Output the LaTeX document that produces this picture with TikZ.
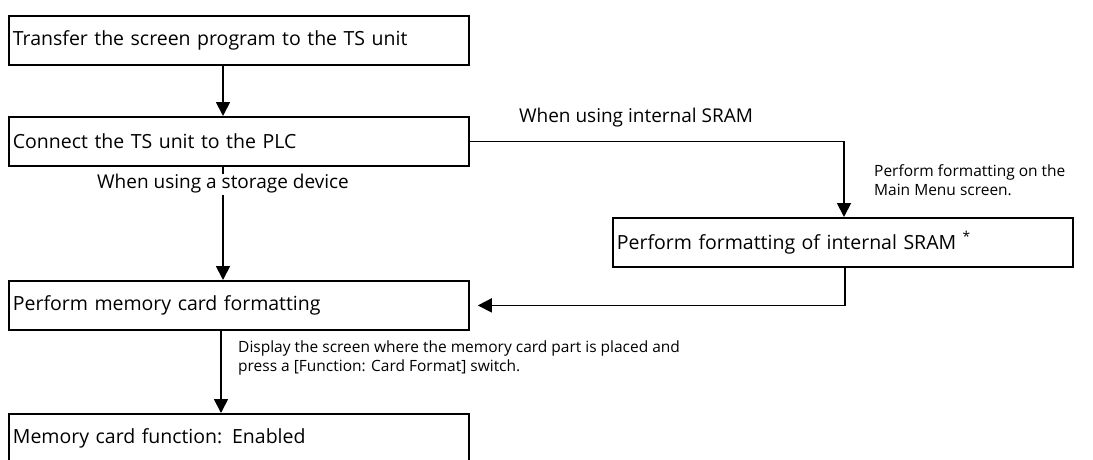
\documentclass[tikz,border=0pt]{standalone}
\usepackage{fontspec}
\setmainfont{Open Sans}
\usetikzlibrary{arrows.meta}

\tikzset{
  stepbox/.style={draw, line width=1.8pt, anchor=north west, minimum height=49pt,
    text width=452pt, inner xsep=4pt, align=left, font=\fontsize{19.5}{23}\selectfont},
  flow/.style={line width=1.8pt, -{Triangle[width=14pt,length=14pt]}},
  note/.style={anchor=north west, inner sep=0pt, align=left, font=\fontsize{15.5}{19}\selectfont},
  cond/.style={font=\fontsize{19}{22}\selectfont, inner sep=1pt}
}

\begin{document}
\begin{tikzpicture}[x=1pt, y=-1pt]
		% Fix the picture size
		\useasboundingbox (0,0) rectangle (1093,459);
		
		% Draw the steps
		\node[stepbox] (transfer) at (8,15) {Transfer the screen program to the TS unit};
		\node[stepbox] (connect) at (8,116) {Connect the TS unit to the PLC};
		\node[stepbox] (sram) at (612,217) {Perform formatting of internal SRAM \textsuperscript{*}};
		\node[stepbox] (cardfmt) at (8,280) {Perform memory card formatting};
		\node[stepbox] (enabled) at (8,413) {Memory card function: Enabled};
		
		% Draw the main flow
		\draw[flow] ([xshift=215pt]transfer.south west) -- ([xshift=215pt]connect.north west);
		\draw[flow] ([xshift=215pt]connect.south west) -- ([xshift=215pt]cardfmt.north west);
		\draw[flow] ([xshift=213pt]cardfmt.south west) -- ([xshift=213pt]enabled.north west);
		
		% Draw the SRAM branch
		\draw[flow] (connect.east) -| ([xshift=232pt]sram.north west);
		\draw[flow, shorten >=8pt] ([xshift=233pt]sram.south west) |- (cardfmt.east);
		
		% Condition labels
		\node[cond] (usesram) at (636,118) {When using internal SRAM};
		\node[cond, fill=white] (usecard) at (223,184) {When using a storage device};
		
		% Notes
		\node[note] (mainmenu) at (874,164) {Perform formatting on the\\Main Menu screen.};
		\node[note] (cardswitch) at (238,341) {Display the screen where the memory card part is placed and\\press a [Function: Card Format] switch.};
	\end{tikzpicture}
\end{document}
